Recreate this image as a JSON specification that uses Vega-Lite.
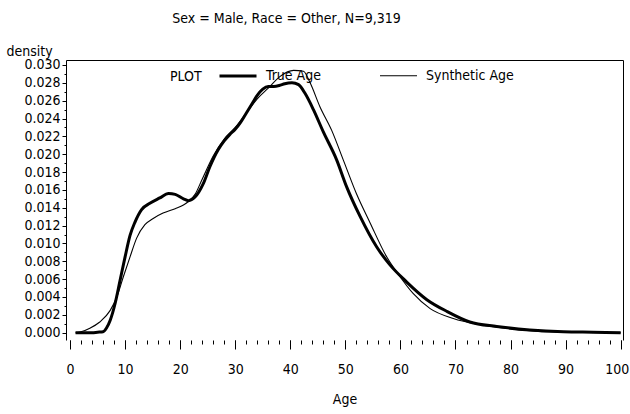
{
  "$schema": "https://vega.github.io/schema/vega-lite/v6.json",
  "width": 557,
  "height": 280,
  "autosize": {"type": "none"},
  "padding": {"left": 66, "top": 60, "right": 7, "bottom": 74},
  "background": "white",
  "config": {
    "view": {"stroke": null},
    "font": "DejaVu Sans Condensed",
    "axis": {
      "domainColor": "black", "tickColor": "black", "labelColor": "black", "titleColor": "black",
      "labelFont": "DejaVu Sans Condensed", "titleFont": "DejaVu Sans Condensed",
      "labelFontSize": 14, "titleFontSize": 14, "titleFontWeight": "normal", "grid": false
    }
  },
  "title": {
    "text": "Sex = Male, Race = Other, N=9,319",
    "font": "DejaVu Sans Condensed", "fontSize": 14, "fontWeight": "normal", "color": "black",
    "anchor": "middle", "dx": -58, "offset": 18
  },
  "datasets": {
    "curves": [
      {"age": 1, "density": 0, "series": "True Age"},
      {"age": 2, "density": 0, "series": "True Age"},
      {"age": 3, "density": 0, "series": "True Age"},
      {"age": 4, "density": 0, "series": "True Age"},
      {"age": 5, "density": 0.00005, "series": "True Age"},
      {"age": 6, "density": 0.0001, "series": "True Age"},
      {"age": 6.6, "density": 0.0005, "series": "True Age"},
      {"age": 7.3, "density": 0.0014, "series": "True Age"},
      {"age": 8.2, "density": 0.0033, "series": "True Age"},
      {"age": 9.1, "density": 0.0059, "series": "True Age"},
      {"age": 10, "density": 0.0085, "series": "True Age"},
      {"age": 10.9, "density": 0.0109, "series": "True Age"},
      {"age": 11.8, "density": 0.0124, "series": "True Age"},
      {"age": 13, "density": 0.0138, "series": "True Age"},
      {"age": 14.5, "density": 0.0145, "series": "True Age"},
      {"age": 16.3, "density": 0.0151, "series": "True Age"},
      {"age": 17.9, "density": 0.0156, "series": "True Age"},
      {"age": 19.1, "density": 0.0155, "series": "True Age"},
      {"age": 20.6, "density": 0.015, "series": "True Age"},
      {"age": 21.5, "density": 0.0148, "series": "True Age"},
      {"age": 22.7, "density": 0.0152, "series": "True Age"},
      {"age": 24.2, "density": 0.0167, "series": "True Age"},
      {"age": 25.4, "density": 0.0186, "series": "True Age"},
      {"age": 26.9, "density": 0.0205, "series": "True Age"},
      {"age": 28, "density": 0.0215, "series": "True Age"},
      {"age": 29, "density": 0.0222, "series": "True Age"},
      {"age": 30, "density": 0.0228, "series": "True Age"},
      {"age": 31, "density": 0.0236, "series": "True Age"},
      {"age": 32, "density": 0.0246, "series": "True Age"},
      {"age": 33, "density": 0.0256, "series": "True Age"},
      {"age": 34, "density": 0.0266, "series": "True Age"},
      {"age": 35, "density": 0.0273, "series": "True Age"},
      {"age": 36, "density": 0.0276, "series": "True Age"},
      {"age": 37, "density": 0.0276, "series": "True Age"},
      {"age": 38, "density": 0.0277, "series": "True Age"},
      {"age": 39, "density": 0.0279, "series": "True Age"},
      {"age": 40.3, "density": 0.028, "series": "True Age"},
      {"age": 41.5, "density": 0.0278, "series": "True Age"},
      {"age": 42.7, "density": 0.0268, "series": "True Age"},
      {"age": 44.2, "density": 0.025, "series": "True Age"},
      {"age": 46, "density": 0.0225, "series": "True Age"},
      {"age": 48.4, "density": 0.0194, "series": "True Age"},
      {"age": 50.2, "density": 0.0164, "series": "True Age"},
      {"age": 52.7, "density": 0.013, "series": "True Age"},
      {"age": 55.7, "density": 0.0096, "series": "True Age"},
      {"age": 58.1, "density": 0.0076, "series": "True Age"},
      {"age": 61.1, "density": 0.0057, "series": "True Age"},
      {"age": 64.8, "density": 0.0037, "series": "True Age"},
      {"age": 68.4, "density": 0.0024, "series": "True Age"},
      {"age": 72.6, "density": 0.0012, "series": "True Age"},
      {"age": 77.5, "density": 0.0007, "series": "True Age"},
      {"age": 83.5, "density": 0.0003, "series": "True Age"},
      {"age": 89.6, "density": 0.0001, "series": "True Age"},
      {"age": 95, "density": 0.00005, "series": "True Age"},
      {"age": 100, "density": 0, "series": "True Age"},
      {"age": 1, "density": 0, "series": "Synthetic Age"},
      {"age": 2, "density": 0.0001, "series": "Synthetic Age"},
      {"age": 3.6, "density": 0.0005, "series": "Synthetic Age"},
      {"age": 5.4, "density": 0.0012, "series": "Synthetic Age"},
      {"age": 7.3, "density": 0.0025, "series": "Synthetic Age"},
      {"age": 8.5, "density": 0.004, "series": "Synthetic Age"},
      {"age": 9.7, "density": 0.0063, "series": "Synthetic Age"},
      {"age": 10.9, "density": 0.0085, "series": "Synthetic Age"},
      {"age": 12.1, "density": 0.0106, "series": "Synthetic Age"},
      {"age": 13.6, "density": 0.0121, "series": "Synthetic Age"},
      {"age": 15.1, "density": 0.0128, "series": "Synthetic Age"},
      {"age": 16.9, "density": 0.0134, "series": "Synthetic Age"},
      {"age": 19.1, "density": 0.0139, "series": "Synthetic Age"},
      {"age": 20.6, "density": 0.0143, "series": "Synthetic Age"},
      {"age": 21.5, "density": 0.0147, "series": "Synthetic Age"},
      {"age": 22.7, "density": 0.0155, "series": "Synthetic Age"},
      {"age": 24, "density": 0.0172, "series": "Synthetic Age"},
      {"age": 26, "density": 0.0198, "series": "Synthetic Age"},
      {"age": 28, "density": 0.0217, "series": "Synthetic Age"},
      {"age": 30, "density": 0.023, "series": "Synthetic Age"},
      {"age": 32, "density": 0.0246, "series": "Synthetic Age"},
      {"age": 34, "density": 0.0262, "series": "Synthetic Age"},
      {"age": 36, "density": 0.0274, "series": "Synthetic Age"},
      {"age": 38.1, "density": 0.0287, "series": "Synthetic Age"},
      {"age": 40.6, "density": 0.0294, "series": "Synthetic Age"},
      {"age": 42.4, "density": 0.0293, "series": "Synthetic Age"},
      {"age": 43.6, "density": 0.028, "series": "Synthetic Age"},
      {"age": 45.4, "density": 0.0253, "series": "Synthetic Age"},
      {"age": 47.5, "density": 0.0227, "series": "Synthetic Age"},
      {"age": 49.6, "density": 0.0194, "series": "Synthetic Age"},
      {"age": 52, "density": 0.0156, "series": "Synthetic Age"},
      {"age": 54.5, "density": 0.0123, "series": "Synthetic Age"},
      {"age": 57.5, "density": 0.0085, "series": "Synthetic Age"},
      {"age": 59.9, "density": 0.0063, "series": "Synthetic Age"},
      {"age": 62.3, "density": 0.0044, "series": "Synthetic Age"},
      {"age": 65.4, "density": 0.0027, "series": "Synthetic Age"},
      {"age": 69.6, "density": 0.0016, "series": "Synthetic Age"},
      {"age": 74.5, "density": 0.0009, "series": "Synthetic Age"},
      {"age": 80.5, "density": 0.0004, "series": "Synthetic Age"},
      {"age": 87, "density": 0.0001, "series": "Synthetic Age"},
      {"age": 100, "density": 0, "series": "Synthetic Age"}
    ]
  },
  "data": {"name": "curves"},
  "layer": [
    {
      "mark": {"type": "line", "opacity": 0},
      "encoding": {
        "x": {"field": "age", "type": "quantitative",
          "scale": {"domain": [-0.73, 100.42], "nice": false, "zero": false},
          "axis": {"orient": "top", "title": null, "labels": false, "ticks": false, "domain": true}},
        "y": {"field": "density", "type": "quantitative",
          "scale": {"domain": [-0.00082, 0.03056], "nice": false, "zero": false},
          "axis": {"orient": "right", "title": null, "labels": false, "ticks": false, "domain": true}},
        "detail": {"field": "series"}
      }
    },
    {
      "mark": {"type": "line", "opacity": 0},
      "encoding": {
        "x": {"field": "age", "type": "quantitative",
          "scale": {"domain": [-0.73, 100.42], "nice": false, "zero": false},
          "axis": {"orient": "bottom", "title": null, "labels": false, "domain": false, "tickSize": 4,
            "values": [0,2,4,6,8,10,12,14,16,18,20,22,24,26,28,30,32,34,36,38,40,42,44,46,48,50,52,54,56,58,60,62,64,66,68,70,72,74,76,78,80,82,84,86,88,90,92,94,96,98,100]}},
        "y": {"field": "density", "type": "quantitative",
          "scale": {"domain": [-0.00082, 0.03056], "nice": false, "zero": false},
          "axis": {"orient": "left", "title": null, "labels": false, "domain": false, "tickSize": 2,
            "values": [0.001,0.003,0.005,0.007,0.009,0.011,0.013,0.015,0.017,0.019,0.021,0.023,0.025,0.027,0.029]}},
        "detail": {"field": "series"}
      }
    },
    {
      "mark": {"type": "line", "interpolate": "monotone", "color": "black"},
      "encoding": {
        "x": {"field": "age", "type": "quantitative",
          "scale": {"domain": [-0.73, 100.42], "nice": false, "zero": false},
          "axis": {"orient": "bottom", "title": "Age", "domain": false, "tickSize": 9, "labelPadding": 13, "titlePadding": 16,
            "values": [0,10,20,30,40,50,60,70,80,90,100], "labelFlush": 3, "labelFlushOffset": 8}},
        "y": {"field": "density", "type": "quantitative",
          "scale": {"domain": [-0.00082, 0.03056], "nice": false, "zero": false},
          "axis": {"orient": "left", "title": "density", "domain": true, "tickSize": 4, "labelPadding": 2, "format": ".3f",
            "values": [0,0.002,0.004,0.006,0.008,0.01,0.012,0.014,0.016,0.018,0.02,0.022,0.024,0.026,0.028,0.03],
            "titleAngle": 0, "titleAlign": "left", "titleBaseline": "alphabetic", "titleX": -60, "titleY": -5, "labelFlush": false}},
        "strokeWidth": {"field": "series", "type": "ordinal",
          "scale": {"domain": ["True Age", "Synthetic Age"], "range": [3, 1.1]},
          "legend": {"orient": "none", "legendX": 104, "legendY": -4, "direction": "horizontal",
            "title": "PLOT", "titleOrient": "left", "titleAnchor": "middle", "titleBaseline": "top",
            "titleFontWeight": "normal", "titleFontSize": 14, "titleFont": "DejaVu Sans Condensed", "titleColor": "black",
            "titlePadding": 16, "labelFontSize": 14, "labelFont": "DejaVu Sans Condensed", "labelColor": "black",
            "symbolType": "stroke", "symbolSize": 1369, "symbolStrokeColor": "black", "labelOffset": 8, "columnPadding": 56}}
      }
    }
  ],
  "resolve": {"axis": {"x": "independent", "y": "independent"}}
}
